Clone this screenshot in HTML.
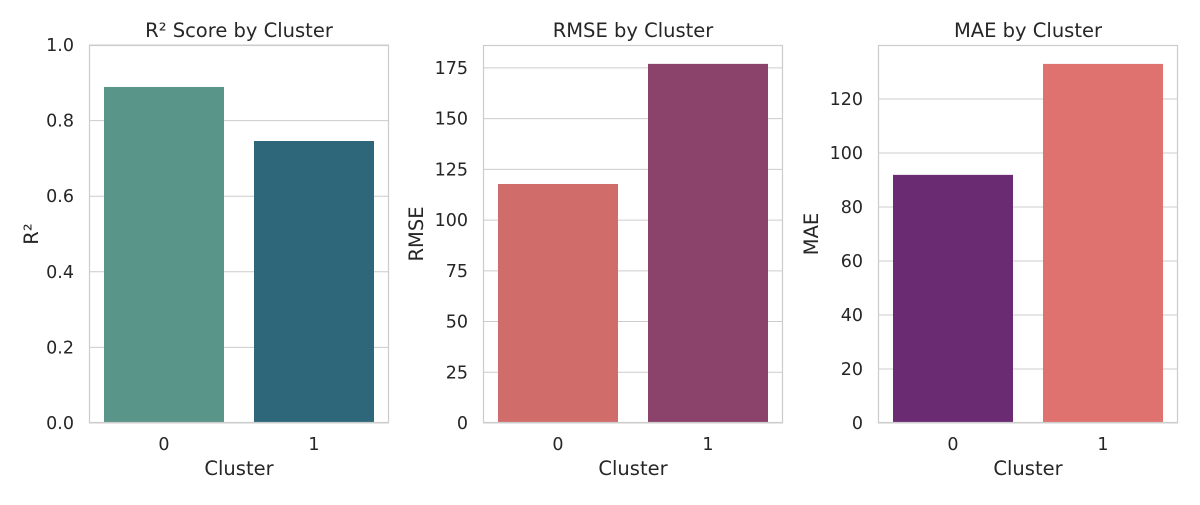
<!DOCTYPE html>
<html><head><meta charset="utf-8"><style>
body{margin:0;background:#fff;}
svg text{font-family:"DejaVu Sans","Liberation Sans",sans-serif;fill:#262626;}
</style></head><body>
<svg id="chart" width="1200" height="500" xmlns="http://www.w3.org/2000/svg"></svg>
<script>
const categories = ["0", "1"];
const r2Values = [0.889, 0.746];
const rmseValues = [117.8, 177.0];
const maeValues = [91.9, 133.0];
const r2Ticks = [0, 0.2, 0.4, 0.6, 0.8, 1.0];
const rmseTicks = [0, 25, 50, 75, 100, 125, 150, 175];
const maeTicks = [0, 20, 40, 60, 80, 100, 120];

const panels = [
  {name:"r2", title:"R² Score by Cluster", ylabel:"R²", values:r2Values, ticks:r2Ticks, ymax:1.0, dec:1, left:89, colors:["#5a9589","#2d6779"]},
  {name:"rmse", title:"RMSE by Cluster", ylabel:"RMSE", values:rmseValues, ticks:rmseTicks, ymax:186.3, dec:0, left:483, colors:["#d06c6a","#8b426b"]},
  {name:"mae", title:"MAE by Cluster", ylabel:"MAE", values:maeValues, ticks:maeTicks, ymax:140.0, dec:0, left:878, colors:["#6a2b73","#df716f"]}
];
const svg = document.getElementById('chart');
const NS = "http://www.w3.org/2000/svg";
function mk(tag, attrs, parent){const e=document.createElementNS(NS,tag);for(const k in attrs)e.setAttribute(k,attrs[k]);parent.appendChild(e);return e;}
const plotTop=45, plotBottom=423, W=300;
panels.forEach(p=>{
  const g = mk('g',{},svg);
  
  
  const y = v => plotBottom - v/p.ymax*(plotBottom-plotTop);
  const slot = W/categories.length;
  const x = i => p.left + slot*i + slot/2;
  p.ticks.forEach(t=>{
    const yy=y(t);
    const gl=mk('line',{x1:p.left,x2:p.left+W,y1:yy,y2:yy,stroke:"#cccccc","stroke-width":1},g);
    
    
    const tl=mk('text',{x:p.left-15,y:yy+6,"text-anchor":"end","font-size":17.5},g);
    tl.textContent=t.toFixed(p.dec);
    
    
  });
  p.values.forEach((v,i)=>{
    const bw=slot*0.8;
    const r=mk('rect',{x:x(i)-bw/2,y:y(v),width:bw,height:plotBottom-y(v),fill:p.colors[i]},g);
    
    
    const tl=mk('text',{x:x(i),y:plotBottom+27,"text-anchor":"middle","font-size":17.5},g);
    tl.textContent=categories[i];
    
    
  });
  const fr=mk('rect',{x:p.left+0.5,y:plotTop+0.5,width:W-1,height:plotBottom-plotTop-1,fill:"none",stroke:"#cccccc","stroke-width":1.2},g);
  
  
  const t=mk('text',{x:p.left+W/2,y:37,"text-anchor":"middle","font-size":19.5},g);
  t.textContent=p.title;
  
  
  const xl=mk('text',{x:p.left+W/2,y:475,"text-anchor":"middle","font-size":19.5},g);
  xl.textContent="Cluster";
  
  
  const lx = p.name==="r2" ? 38 : p.left-60;
  const yl=mk('text',{x:lx,y:(plotTop+plotBottom)/2,"text-anchor":"middle","font-size":19.5,transform:`rotate(-90 ${lx} ${(plotTop+plotBottom)/2})`},g);
  yl.textContent=p.ylabel;
  
  
});
</script>
</body></html>
